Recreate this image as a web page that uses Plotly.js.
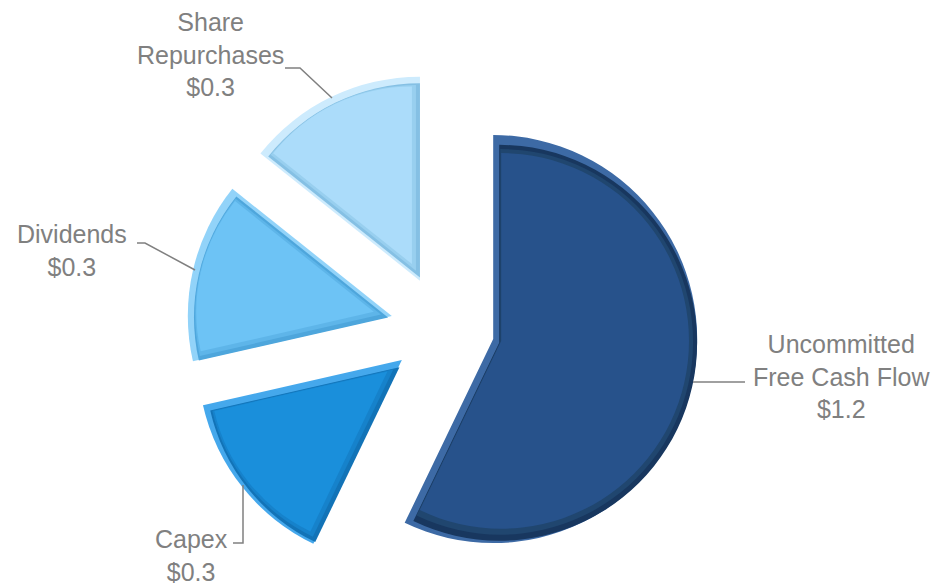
<!DOCTYPE html>
<html>
<head>
<meta charset="utf-8">
<script src="https://cdn.plot.ly/plotly-3.0.1.min.js"></script>
<style>
  html, body { margin: 0; padding: 0; background: #ffffff; overflow: hidden; }
  #chart { width: 939px; height: 584px; }
</style>
</head>
<body>
<div id="chart"></div>
<script>
// ---- data ----
const categories = ['Uncommitted Free Cash Flow', 'Capex', 'Dividends', 'Share Repurchases'];
const labelLines = [['Uncommitted', 'Free Cash Flow'], ['Capex'], ['Dividends'], ['Share', 'Repurchases']];
const values = [1.2, 0.3, 0.3, 0.3];
const valuePrefix = '$';

// ---- styles ----
const faceColors  = ['#27528b', '#1a8fdb', '#6dc3f5', '#abdcfa'];
const lightColors = ['#3d6aa5', '#45a8ec', '#92d3f9', '#cdebfd'];
const darkColors  = ['#18375f', '#1273b7', '#4ea6dc', '#85c0e4'];
const midColors   = ['#20466f', '#1682cb', '#5eb5e9', '#98cfef'];
const textColor = '#808080';
const fontFamily = '"Liberation Sans", Arial, sans-serif';

// ---- layout geometry (pixels) ----
const W = 939, H = 584;
const CX = 442.5, CY = 327.5;   // pie centre
const R = 204;                   // slice radius
const S = 52;                    // absolute pull distance
const total = values.reduce((a, b) => a + b, 0);

function sliceTrace(i, inset, off, colors) {
  const half = Math.PI * values[i] / total;
  const extra = inset / Math.sin(half);
  const shift = S + extra;
  const r = R - inset - extra;
  const pull = shift / r;
  const box = 2 * (R + S - inset);
  const cx = CX + off, cy = CY + off;
  const x0 = (cx - box / 2) / W, x1 = (cx + box / 2) / W;
  const y0 = 1 - (cy + box / 2) / H, y1 = y0 + box / H;
  return {
    type: 'pie',
    labels: categories,
    values: values,
    sort: false,
    direction: 'clockwise',
    rotation: 0,
    pull: values.map((v, j) => j === i ? pull : 0),
    marker: {
      colors: values.map((v, j) => j === i ? colors[i] : 'rgba(0,0,0,0)'),
      line: { width: 0 }
    },
    textinfo: 'none',
    hoverinfo: 'skip',
    showlegend: false,
    domain: { x: [Math.max(0, x0), Math.min(1, x1)], y: [Math.max(0, y0), Math.min(1, y1)] }
  };
}

const traces = [];
for (let i = 0; i < values.length; i++) {
  traces.push(sliceTrace(i, 0, 0, lightColors));
  traces.push(sliceTrace(i, 3, 3, darkColors));
  traces.push(sliceTrace(i, 5.5, 1.5, midColors));
  traces.push(sliceTrace(i, 8, 0, faceColors));
}

// label positions (pixel centres) and leader lines
const labelPos = [[841, 376], [191, 555], [72, 250], [210, 55]];
const leaders = [
  [[693, 382], [745, 382]],
  [[233, 543], [243, 543], [243, 485]],
  [[137, 243], [145, 243], [195, 270]],
  [[285, 68], [300, 68], [332, 98]]
];
const px = x => x / W;
const py = y => 1 - y / H;

const annotations = categories.map((c, i) => ({
  xref: 'paper', yref: 'paper',
  x: px(labelPos[i][0]), y: py(labelPos[i][1]),
  xanchor: 'center', yanchor: 'middle',
  showarrow: false,
  align: 'center',
  text: labelLines[i].concat([valuePrefix + values[i].toFixed(1)]).join('<br>'),
  font: { family: fontFamily, size: 25, color: textColor }
}));

const shapes = leaders.map(pts => ({
  type: 'path', xref: 'paper', yref: 'paper',
  path: pts.map((p, k) => (k ? 'L' : 'M') + px(p[0]) + ',' + py(p[1])).join(' '),
  line: { color: textColor, width: 1.5 }
}));

const layout = {
  width: W, height: H,
  margin: { l: 0, r: 0, t: 0, b: 0 },
  paper_bgcolor: '#ffffff',
  plot_bgcolor: '#ffffff',
  showlegend: false,
  annotations: annotations,
  shapes: shapes
};

Plotly.newPlot('chart', traces, layout, { displayModeBar: false, staticPlot: true });
</script>
</body>
</html>
